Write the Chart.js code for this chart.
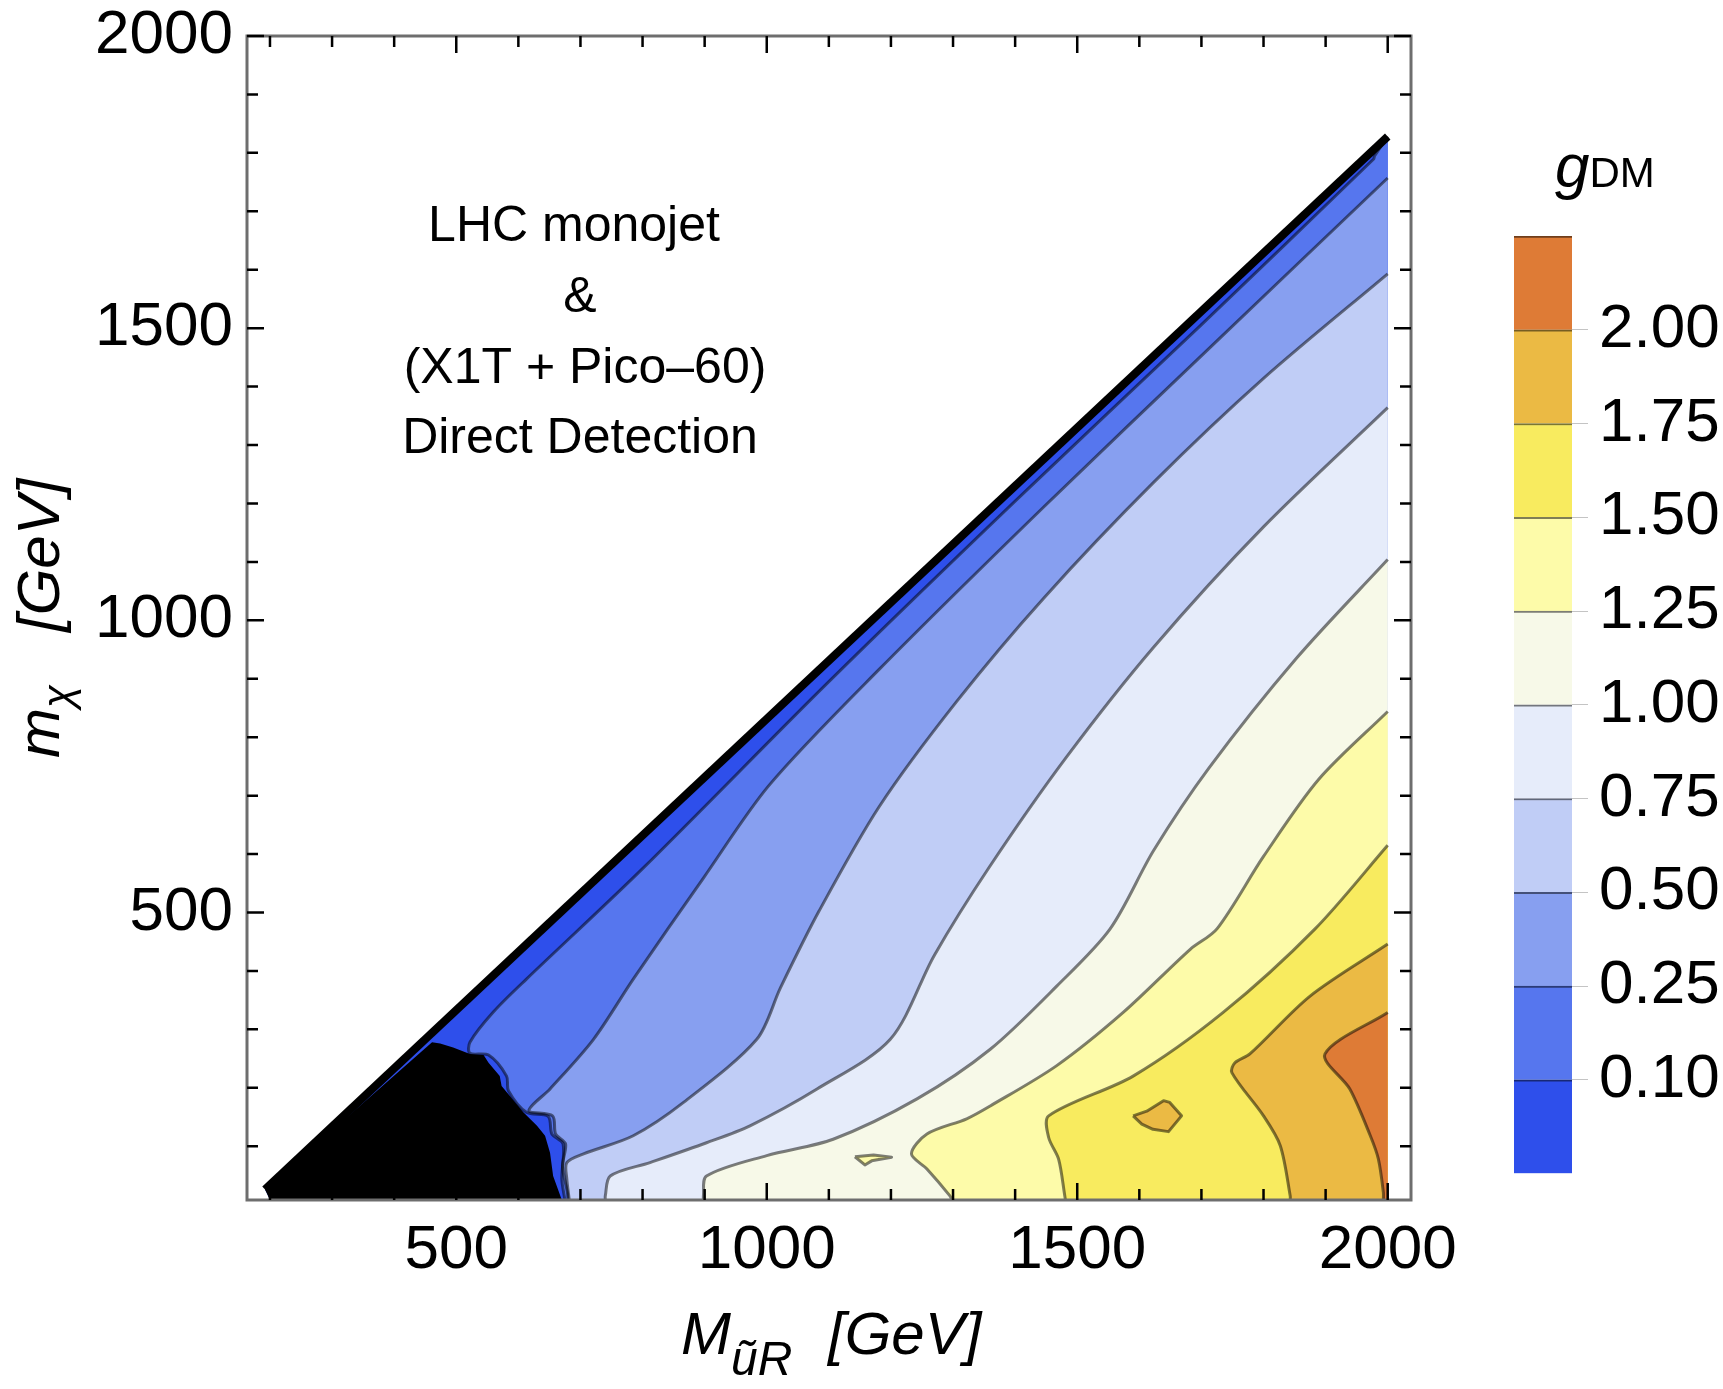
<!DOCTYPE html>
<html lang="en">
<head>
<meta charset="UTF-8">
<title>g_DM contours: LHC monojet & direct detection</title>
<script src="https://cdn.jsdelivr.net/npm/chart.js"></script>
<style>
  body { margin: 0; background: #fff; }
  #wrap { position: relative; width: 1723px; height: 1389px; }
  #main { position: absolute; left: 0; top: 0; }
  #bar { position: absolute; left: 1500px; top: 200px; }
</style>
</head>
<body>
<div id="wrap">
  <canvas id="main" width="1723" height="1389"></canvas>
  <canvas id="bar" width="223" height="1000"></canvas>
</div>
<script>
// contour levels of g_DM and the band colours (lowest band first)
const levels = [0.10, 0.25, 0.50, 0.75, 1.00, 1.25, 1.50, 1.75, 2.00];
const levelLabels = ['0.10', '0.25', '0.50', '0.75', '1.00', '1.25', '1.50', '1.75', '2.00'];
const bandColors = ['#2e4feb', '#5676ee', '#879ff0', '#c0cdf6', '#e6ecfa',
                    '#f7f9e8', '#fdfba9', '#f8eb5f', '#ebba44', '#de7b36'];
const majorTicks = [500, 1000, 1500, 2000];

// kinematic edge (thick black line)
const edge = [[192, 26], [2000, 1828]];

// contour lines: from the right edge (M = 2000) down to the bottom
const c010 = [[2000, 1828], [1979, 1795], [1977, 1789], [1698, 1504], [1400, 1204], [1100, 895],
              [800, 575], [613, 386], [560, 330], [522, 278], [522, 259], [552, 256], [581, 220],
              [584, 195], [613, 158], [648, 151], [654, 121], [672, 104], [670, 44], [675, 8]];
const c025 = [[2000, 1757], [1712, 1465], [1446, 1194], [1181, 916], [1004, 718], [898, 559],
              [785, 386], [721, 283], [651, 198], [617, 161], [655, 152], [660, 121], [676, 104],
              [671, 66], [679, 21], [680, 8]];
const c050 = [[2000, 1593], [1800, 1414], [1623, 1236], [1446, 1038], [1305, 860], [1181, 681],
              [1084, 502], [1022, 371], [984, 283], [866, 175], [785, 118], [705, 87], [678, 72],
              [678, 44], [682, 8]];
const c075 = [[2000, 1364], [1800, 1160], [1623, 954], [1482, 765], [1358, 577], [1270, 427],
              [1199, 283], [1081, 198], [973, 135], [903, 106], [812, 72], [748, 49], [740, 15], [740, 8]];
const c100 = [[2000, 1104], [1853, 935], [1712, 747], [1623, 606], [1553, 472], [1467, 374],
              [1360, 266], [1242, 181], [1107, 112], [1000, 84], [903, 49], [898, 15], [898, 8]];
const c125 = [[2000, 844], [1889, 728], [1800, 596], [1725, 472], [1682, 437], [1574, 329],
              [1467, 238], [1360, 169], [1322, 147], [1258, 121], [1233, 87], [1258, 61], [1295, 15], [1298, 8]];
const c150 = [[2000, 615], [1883, 472], [1735, 329], [1590, 220], [1454, 152], [1454, 115],
              [1470, 78], [1480, 15], [1481, 8]];
const c175 = [[2000, 446], [1875, 357], [1778, 258], [1754, 243], [1749, 226], [1800, 152],
              [1827, 101], [1843, 15], [1843, 8]];
const c200 = [[2000, 329], [1899, 258], [1939, 198], [1972, 118], [1985, 78], [1993, 21], [1993, 8]];

// small closed islands
const island125 = [[1142, 82], [1172, 85], [1201, 81], [1169, 75], [1158, 68]];
const island175 = [[1590, 152], [1612, 160], [1639, 178], [1649, 175], [1668, 152], [1647, 125], [1622, 129], [1604, 138]];

// excluded region (black)
const excluded = [[192, 26], [461, 278], [474, 276], [495, 269], [522, 258], [544, 256], [552, 243],
                  [570, 220], [573, 203], [608, 158], [630, 135], [643, 118], [651, 89], [656, 49],
                  [670, 8], [200, 8]];

const noteLines = ['LHC monojet', '&', '(X1T + Pico\u201360)', 'Direct Detection'];

const FONT = '"Liberation Sans", Arial, Helvetica, sans-serif';
const Y_MIN = 8;
const SMOOTH = 0.3;
const LINE = 'rgba(0,0,0,0.5)';

function pts(arr) { return arr.map(([x, y]) => ({x: x, y: y})); }

var datasets = [];
function addArea(points, color, tension) {
    datasets.push({data: pts(points), showLine: true, fill: 'shape', backgroundColor: color,
                   borderWidth: 0, pointRadius: 0, tension: tension || 0});
}
function addLine(points, color, width, tension) {
    datasets.push({data: pts(points), showLine: true, fill: false, borderColor: color,
                   borderWidth: width, pointRadius: 0, tension: tension || 0, borderJoinStyle: 'round'});
}

var contours = [c010, c025, c050, c075, c100, c125, c150, c175, c200];

// painter's order: lowest band first, each region "g > level" on top.
// The last contour point is repeated so the smoothed curve meets the straight bottom edge cleanly.
addArea(edge.concat([[2000, Y_MIN], [200, Y_MIN]]), bandColors[0]);
contours.forEach(function(c, i) {
    addArea(c.concat([c[c.length - 1], [2000, Y_MIN]]), bandColors[i + 1], SMOOTH);
});
addArea(island125, bandColors[6]);
addArea(island175, bandColors[8]);
contours.forEach(function(c) { addLine(c, LINE, 3, SMOOTH); });
addLine(island125.concat([island125[0]]), LINE, 3);
addLine(island175.concat([island175[0]]), LINE, 3);
addArea(excluded, '#000');
datasets.push({data: pts(edge), showLine: true, fill: false, borderColor: '#000', borderWidth: 8,
               borderCapStyle: 'butt', pointRadius: 0});
// first dataset must be drawn first
datasets.forEach(function(d, i) { d.order = datasets.length - i; });

function drawRuns(ctx, parts, x, y) {
    var cx = x;
    parts.forEach(function(p) {
        ctx.font = p.font;
        ctx.fillText(p.text, cx, y + (p.dy || 0));
        cx += ctx.measureText(p.text).width;
    });
    return cx;
}

// frame, inward ticks, titles and the note
var decor = {
    id: 'decor',
    afterDatasetsDraw: function(chart) {
        var ctx = chart.ctx, a = chart.chartArea, x = chart.scales.x, y = chart.scales.y;
        ctx.save();
        ctx.strokeStyle = '#6e6e6e';
        ctx.lineWidth = 3;
        ctx.strokeRect(a.left, a.top, a.right - a.left, a.bottom - a.top);

        ctx.strokeStyle = '#000';
        ctx.lineWidth = 2.5;
        ctx.beginPath();
        for (var v = 200; v <= 2000; v += 100) {
            var p = x.getPixelForValue(v), L = majorTicks.indexOf(v) >= 0 ? 17 : 11;
            ctx.moveTo(p, a.bottom); ctx.lineTo(p, a.bottom - L);
            ctx.moveTo(p, a.top); ctx.lineTo(p, a.top + L);
        }
        for (var w = 100; w <= 2000; w += 100) {
            var q = y.getPixelForValue(w), M = majorTicks.indexOf(w) >= 0 ? 17 : 11;
            ctx.moveTo(a.left, q); ctx.lineTo(a.left + M, q);
            ctx.moveTo(a.right, q); ctx.lineTo(a.right - M, q);
        }
        ctx.stroke();

        ctx.fillStyle = '#000';
        ctx.textBaseline = 'alphabetic';
        // note
        ctx.textAlign = 'center';
        ctx.font = '50px ' + FONT;
        var noteX = [574, 580, 585, 580], noteY = [241, 312, 383, 453];
        noteLines.forEach(function(t, i) { ctx.fillText(t, noteX[i], noteY[i]); });

        // x axis title
        ctx.textAlign = 'left';
        drawRuns(ctx, [
            {text: 'M', font: 'italic 60px ' + FONT},
            {text: '\u0169R', font: 'italic 48px ' + FONT, dy: 21}
        ], 681, 1354);
        drawRuns(ctx, [{text: '[GeV]', font: 'italic 60px ' + FONT}], 828, 1354);

        // y axis title
        ctx.save();
        ctx.translate(59, 0);
        ctx.rotate(-Math.PI / 2);
        drawRuns(ctx, [
            {text: 'm', font: 'italic 60px ' + FONT},
            {text: '\u03c7', font: 'italic 42px ' + FONT, dy: 13}
        ], -758, 0);
        drawRuns(ctx, [{text: '[GeV]', font: 'italic 60px ' + FONT}], -632, 0);
        ctx.restore();

        // colour bar title
        drawRuns(ctx, [
            {text: 'g', font: 'italic 62px ' + FONT},
            {text: 'DM', font: '42px ' + FONT}
        ], 1555, 187);
        ctx.restore();
    }
};

function majorOnly(s) { s.ticks = majorTicks.map(function(v) { return {value: v}; }); }

new Chart(document.getElementById('main'), {
    type: 'scatter',
    data: {datasets: datasets},
    options: {
        responsive: false,
        animation: false,
        devicePixelRatio: 1,
        events: [],
        layout: {padding: {top: 36, right: 312, left: 0, bottom: 0}},
        plugins: {legend: {display: false}, tooltip: {enabled: false}},
        scales: {
            x: {
                type: 'linear', min: 163, max: 2037.5,
                afterBuildTicks: majorOnly,
                afterFit: function(s) { s.height = 189; },
                grid: {display: false, drawTicks: false},
                border: {display: false},
                ticks: {
                    autoSkip: false, maxRotation: 0, padding: 20, color: '#000',
                    font: {family: FONT, size: 62, lineHeight: 1},
                    callback: function(v) { return String(v); }
                }
            },
            y: {
                type: 'linear', min: Y_MIN, max: 2000,
                afterBuildTicks: majorOnly,
                afterFit: function(s) { s.width = 247; },
                grid: {display: false, drawTicks: false},
                border: {display: false},
                ticks: {
                    autoSkip: false, padding: 14, color: '#000',
                    font: {family: FONT, size: 62, lineHeight: 0.5},
                    callback: function(v) { return String(v); }
                }
            }
        }
    },
    plugins: [decor]
});

// colour bar legend
function darker(hex) {
    var n = parseInt(hex.slice(1), 16);
    var r = (n >> 16) & 255, g = (n >> 8) & 255, b = n & 255;
    return 'rgb(' + Math.round(r * 0.5) + ',' + Math.round(g * 0.5) + ',' + Math.round(b * 0.5) + ')';
}

new Chart(document.getElementById('bar'), {
    type: 'bar',
    data: {
        labels: [''],
        datasets: bandColors.map(function(c) {
            return {
                data: [1], backgroundColor: c, borderColor: darker(c),
                borderWidth: {top: 2, left: 0, right: 0, bottom: 0}, borderSkipped: false,
                categoryPercentage: 1, barPercentage: 1
            };
        })
    },
    options: {
        responsive: false,
        animation: false,
        devicePixelRatio: 1,
        events: [],
        layout: {padding: {left: 14, top: 36, bottom: 26, right: 0}},
        plugins: {legend: {display: false}, tooltip: {enabled: false}},
        scales: {
            x: {stacked: true, display: false},
            y: {
                stacked: true, position: 'right', min: 0, max: levels.length + 1,
                afterBuildTicks: function(s) {
                    s.ticks = levels.map(function(l, i) { return {value: i + 1}; });
                },
                afterFit: function(s) { s.width = 151; },
                grid: {drawOnChartArea: false, drawTicks: true, tickLength: 16, tickWidth: 1, tickColor: '#c4c4c4'},
                border: {display: false},
                ticks: {
                    padding: 11, color: '#000',
                    font: {family: FONT, size: 62, lineHeight: 0.5},
                    callback: function(v) { return levelLabels[v - 1] || ''; }
                }
            }
        }
    }
});
</script>
</body>
</html>
